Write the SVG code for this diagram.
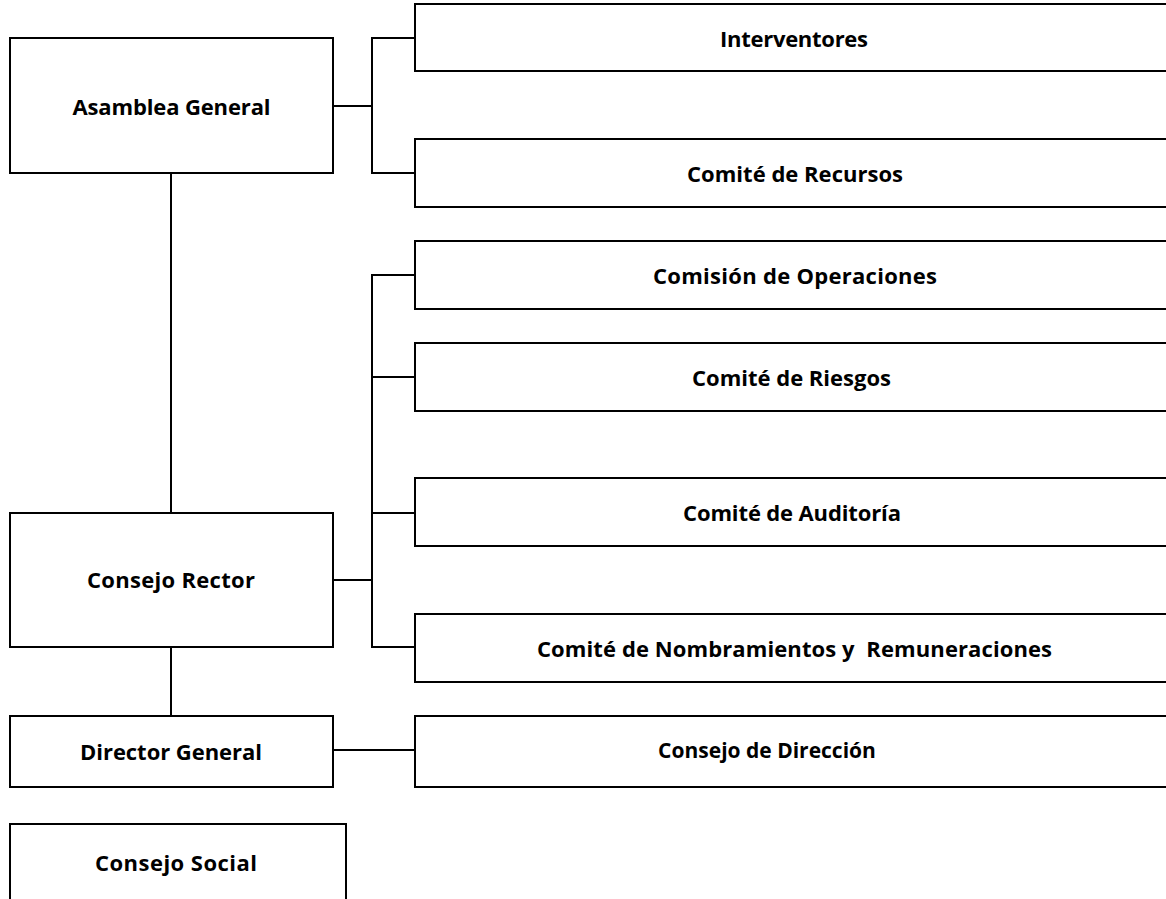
<svg xmlns="http://www.w3.org/2000/svg" width="1166" height="899" viewBox="0 0 1166 899">
<style>
.box{fill:#fff;stroke:#000;stroke-width:2}
.ln{fill:none;stroke:#000;stroke-width:2}
text{font-family:"Open Sans","Liberation Sans",sans-serif;font-weight:bold;font-size:22px;fill:#000;text-anchor:middle;white-space:pre}
</style>
<rect width="1166" height="899" fill="#fff"/>
<g id="connectors">
<line class="ln" x1="171" y1="173" x2="171" y2="513"/>
<line class="ln" x1="171" y1="647" x2="171" y2="716"/>
<line class="ln" x1="333" y1="106" x2="372" y2="106"/>
<polyline class="ln" points="415,38 372,38 372,173 415,173"/>
<line class="ln" x1="333" y1="580" x2="372" y2="580"/>
<polyline class="ln" points="415,275 372,275 372,647 415,647"/>
<line class="ln" x1="372" y1="377" x2="415" y2="377"/>
<line class="ln" x1="372" y1="513" x2="415" y2="513"/>
<line class="ln" x1="333" y1="750" x2="415" y2="750"/>
</g>
<g id="asamblea"><rect class="box" x="10" y="38" width="323" height="135"/><text x="171.5" y="115" textLength="198">Asamblea General</text></g>
<g id="interventores"><rect class="box" x="415" y="4" width="770" height="67"/><text x="794" y="46.5" textLength="148">Interventores</text></g>
<g id="recursos"><rect class="box" x="415" y="139" width="770" height="68"/><text x="795" y="181.5" textLength="216">Comité de Recursos</text></g>
<g id="operaciones"><rect class="box" x="415" y="241" width="770" height="68"/><text x="795" y="283.5" textLength="284">Comisión de Operaciones</text></g>
<g id="riesgos"><rect class="box" x="415" y="343" width="770" height="68"/><text x="791.5" y="385.5" textLength="199">Comité de Riesgos</text></g>
<g id="auditoria"><rect class="box" x="415" y="478" width="770" height="68"/><text x="792" y="520.5" textLength="218">Comité de Auditoría</text></g>
<g id="nombramientos"><rect class="box" x="415" y="614" width="770" height="68"/><text x="794.5" y="656.5" textLength="515">Comité de Nombramientos y  Remuneraciones</text></g>
<g id="rector"><rect class="box" x="10" y="513" width="323" height="134"/><text x="171" y="588" textLength="168">Consejo Rector</text></g>
<g id="director"><rect class="box" x="10" y="716" width="323" height="71"/><text x="171" y="760" textLength="182">Director General</text></g>
<g id="direccion"><rect class="box" x="415" y="716" width="770" height="71"/><text x="767" y="758" style="font-size:21px">Consejo de Dirección</text></g>
<g id="social"><rect class="box" x="10" y="824" width="336" height="100"/><text x="176" y="871" textLength="162">Consejo Social</text></g>
</svg>
